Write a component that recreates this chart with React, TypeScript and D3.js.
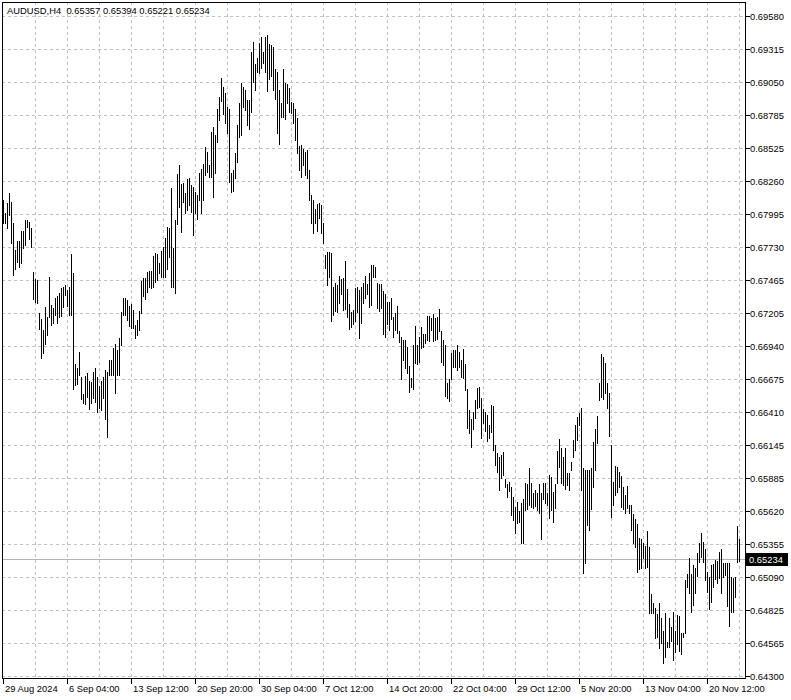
import React from "react";
import * as d3 from "d3";

// AUDUSD H4 bars: high / low in points (1 point = 0.00001)
const highPts: number[] = [
68108,68004,68084,68164,68092,67924,67708,67780,67780,67860,67860,67948,67948,67932,67884,67532,67476,67468,67204,67156,
67068,67252,67172,67492,67268,67244,67324,67340,67364,67404,67412,67428,67388,67412,67676,67524,66796,66764,66892,66692,
66556,66700,66724,66660,66652,66732,66764,66692,66620,66660,66692,66748,66732,66828,66828,66924,66956,66908,67004,67212,
67324,67324,67308,67260,67276,67228,67108,67148,67220,67460,67484,67484,67532,67540,67540,67660,67684,67676,67604,67700,
67732,67804,67892,67884,68204,67724,67948,68316,68388,68236,68244,68164,68276,68284,68228,68212,68172,68148,68324,68356,
68396,68532,68492,68388,68652,68692,68628,68836,68932,69084,69012,68964,68852,68836,68324,68348,68484,68708,68884,69044,
69012,68988,68908,68908,69292,69372,69196,69244,69364,69412,69292,69412,69428,69356,69348,69332,69156,69132,68988,68884,
69156,69044,69036,69004,68892,68884,68836,68764,68540,68548,68516,68492,68508,68348,68148,68108,68036,68076,68084,68068,
67924,67668,67692,67692,67684,67412,67444,67428,67500,67476,67484,67620,67396,67276,67212,67228,67404,67412,67388,67412,
67444,67500,67436,67524,67588,67588,67572,67444,67436,67436,67380,67356,67292,67292,67324,67172,67204,67260,67060,67012,
66988,66988,66932,66780,66684,66948,67100,66948,67012,67092,67036,67036,67180,67180,67164,67196,67164,67172,67236,67060,
66988,66948,66644,66676,66884,66908,66908,66948,66892,66828,66916,66796,66596,66428,66356,66412,66508,66604,66612,66524,
66436,66412,66388,66308,66468,66460,66148,66084,66052,66068,66092,65876,65836,65852,65812,65732,65652,65692,65620,65684,
65716,65844,65836,65964,65844,65764,65788,65764,65836,65764,65844,65844,65764,65908,65892,65772,65836,66100,66196,66124,
66052,66124,65924,65924,66012,66188,66308,66372,66404,66444,65964,65948,65948,65948,65964,66172,66276,66380,66644,66876,
66852,66804,66644,66564,66148,65852,65980,65972,65932,65900,65812,65748,65820,65668,65668,65596,65556,65516,65404,65396,
65364,65340,65460,65332,64956,64884,64844,64796,64884,64764,64660,64804,64572,64764,64692,64812,64660,64788,64780,64644,
64644,65068,65116,65244,65116,65188,65164,65284,65364,65444,65372,65316,65132,65092,65188,65196,65228,65220,65292,65316,
65204,65204,65204,65204,65092,65084,65092,65500,65394,
];
const lowPts: number[] = [
67924,67924,67884,67988,67764,67508,67556,67612,67572,67604,67724,67748,67892,67796,67732,67316,67292,67284,67076,66844,
66884,66956,67028,67172,67108,67124,67188,67124,67172,67180,67252,67348,67260,67188,67188,66596,66628,66636,66708,66516,
66484,66476,66532,66436,66484,66524,66492,66412,66444,66428,66524,66356,66212,66708,66708,66708,66564,66708,66708,66948,
67188,67188,67148,67100,67084,67084,67004,67028,67068,67204,67340,67316,67372,67412,67404,67412,67452,67468,67524,67492,
67492,67492,67556,67652,67412,67412,67364,67916,68052,67852,68092,68004,68028,68068,68012,67828,68004,67956,68108,68004,
68108,68308,68332,68292,68292,68132,68324,68572,68748,68900,68796,68724,68644,68252,68172,68180,68284,68412,68612,68628,
68852,68828,68708,68676,68812,69052,68988,69132,69124,69164,69204,69132,68980,69076,69100,68988,68916,68644,68556,68772,
68772,68756,68884,68812,68804,68724,68588,68484,68348,68292,68388,68308,68284,68108,67924,67844,67924,67860,67964,67844,
67764,67564,67428,67492,67140,67188,67220,67212,67284,67356,67228,67236,67172,67076,67092,67116,67140,67212,67004,67124,
67284,67324,67356,67252,67268,67492,67492,67244,67220,67244,67036,67012,67116,67068,67156,67012,67068,67044,66972,66676,
66828,66764,66724,66572,66612,66596,66804,66796,66812,66924,66932,66964,66988,66980,67068,66980,66988,66996,67060,66812,
66788,66540,66524,66500,66676,66772,66772,66748,66772,66692,66684,66588,66284,66244,66132,66276,66364,66444,66452,66204,
66324,66260,66180,66204,66252,66108,65988,65932,65788,65884,65908,65812,65732,65780,65588,65548,65444,65524,65532,65364,
65364,65628,65636,65668,65652,65644,65660,65628,65604,65396,65716,65684,65668,65564,65628,65532,65644,65844,65972,65844,
65828,65796,65828,65788,65948,66052,66108,66188,66308,65788,65124,65204,65508,65468,65636,65812,65948,66164,66508,66532,
66516,66564,66444,66220,65572,65668,65748,65772,65812,65652,65636,65604,65644,65604,65468,65364,65332,65132,65156,65164,
65244,65164,65172,64804,64804,64804,64604,64612,64524,64564,64404,64452,64532,64532,64580,64428,64492,64556,64500,64476,
64612,64644,65012,64964,64812,64868,64964,65100,65212,65252,65212,65068,64972,64836,64892,65012,65076,65044,65084,64964,
65092,65108,64860,64700,64812,64812,64932,65212,65221,
];

const symbolText = "AUDUSD,H4";
const lastOHLC = ["0.65357", "0.65394", "0.65221", "0.65234"];
const lastClose = 0.65234;

const priceTicks: string[] = [
  "0.69580","0.69315","0.69050","0.68785","0.68525","0.68260","0.67995","0.67730","0.67465","0.67205","0.66940",
  "0.66675","0.66410","0.66145","0.65885","0.65620","0.65355","0.65090","0.64825","0.64565","0.64300",
];
const timeLabels: string[] = [
  "29 Aug 2024","6 Sep 04:00","13 Sep 12:00","20 Sep 20:00","30 Sep 04:00","7 Oct 12:00",
  "14 Oct 20:00","22 Oct 04:00","29 Oct 12:00","5 Nov 20:00","13 Nov 04:00","20 Nov 12:00",
];
const labelEvery = 32;
const gridEvery = 16;

const W = 791, H = 700;
const plotLeft = 2, plotRight = 745, plotTop = 2, plotBottom = 678;
const FONT = "'Liberation Sans', Arial, sans-serif";
const FS = 9.4;

export default function App() {
  const n = highPts.length;
  const x = d3.scaleLinear().domain([0, n - 1]).range([3.5, 3.5 + 2 * (n - 1)]);
  const y = d3.scaleLinear().domain([0.643, 0.6958]).range([676, 16]);
  const yr = (v: number) => Math.round(y(v));

  const gridXs = d3.range(gridEvery, n, gridEvery);
  const bars = d3.range(n).map((i) => ({ i, h: highPts[i] / 1e5, l: lowPts[i] / 1e5 }));
  const closeY = Math.round(y(lastClose));

  return (
    <svg width={W} height={H} style={{ position: "absolute", left: 0, top: 0, background: "#fff" }}
      fontFamily={FONT}>
      <rect x={0} y={0} width={W} height={H} fill="#fff" />
      {priceTicks.map((t) => (
        <line key={"hg" + t} x1={plotLeft} x2={plotRight} y1={yr(+t) + 0.5} y2={yr(+t) + 0.5}
          stroke="#c0c0c0" strokeDasharray="3,3" />
      ))}
      {gridXs.map((i) => (
        <line key={"vg" + i} x1={x(i)} x2={x(i)} y1={plotTop} y2={plotBottom}
          stroke="#c0c0c0" strokeDasharray="3,3" />
      ))}
      <line x1={plotLeft} x2={plotRight} y1={closeY + 0.5} y2={closeY + 0.5} stroke="#b4b4b4" />
      {bars.map((b) => (
        <line key={"b" + b.i} x1={x(b.i)} x2={x(b.i)} y1={yr(b.h)} y2={yr(b.l) + 1}
          stroke="#000" strokeWidth={1} />
      ))}
      <line x1={plotLeft + 0.5} x2={plotLeft + 0.5} y1={plotTop} y2={plotBottom + 1} stroke="#000" />
      <line x1={plotRight + 0.5} x2={plotRight + 0.5} y1={plotTop} y2={plotBottom + 1} stroke="#000" />
      <line x1={plotLeft} x2={plotRight + 1} y1={plotBottom + 0.5} y2={plotBottom + 0.5} stroke="#000" />
      <line x1={plotLeft} x2={plotRight + 1} y1={plotTop + 0.5} y2={plotTop + 0.5} stroke="#000" />
      {priceTicks.map((t) => (
        <g key={"pt" + t}>
          <line x1={plotRight + 1} x2={plotRight + 5} y1={yr(+t) + 0.5} y2={yr(+t) + 0.5} stroke="#000" />
          <text x={750} y={yr(+t) + 0.5} dy="0.35em" fontSize={FS} fill="#000">{t}</text>
        </g>
      ))}
      <rect x={746} y={closeY - 6} width={42} height={13} fill="#000" />
      <text x={749} y={closeY + 0.5} dy="0.35em" fontSize={FS} fill="#fff">{lastClose.toFixed(5)}</text>
      {timeLabels.map((lab, k) => {
        const xi = x(k * labelEvery);
        return (
          <g key={"tl" + k}>
            <line x1={xi} x2={xi} y1={plotBottom + 1} y2={plotBottom + 6} stroke="#000" />
            <text x={xi + 1.5} y={692} fontSize={FS} fill="#000">{lab}</text>
          </g>
        );
      })}
      <text x={7} y={14} fontSize={FS} fill="#000" style={{ whiteSpace: "pre" }}>
        {symbolText + "  " + lastOHLC.join(" ")}
      </text>
    </svg>
  );
}
